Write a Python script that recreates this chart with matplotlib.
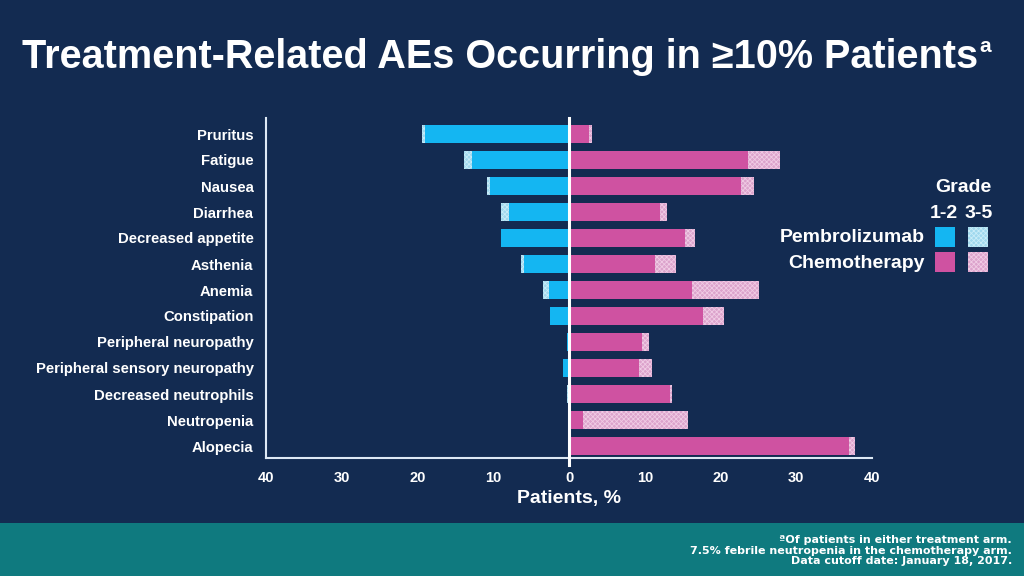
import matplotlib
matplotlib.use("Agg")
import matplotlib.pyplot as plt
import matplotlib.patches as mpatches
import numpy as np

plt.rcParams['font.family'] = ['Liberation Sans', 'DejaVu Sans']
plt.rcParams['hatch.linewidth'] = 0.6

# ---- data (percent of patients) ----
categories = ["Pruritus", "Fatigue", "Nausea", "Diarrhea", "Decreased appetite",
              "Asthenia", "Anemia", "Constipation", "Peripheral neuropathy",
              "Peripheral sensory neuropathy", "Decreased neutrophils",
              "Neutropenia", "Alopecia"]
pembro_g12 = [19.0, 12.8, 10.4, 7.9, 9.0, 5.9, 2.6, 2.5, 0.3, 0.8, 0.0, 0.0, 0.0]
pembro_g35 = [0.4, 1.0, 0.4, 1.1, 0.0, 0.5, 0.8, 0.0, 0.0, 0.0, 0.3, 0.0, 0.0]
chemo_g12 = [2.6, 23.6, 22.7, 12.0, 15.3, 11.4, 16.2, 17.7, 9.7, 9.2, 13.3, 1.9, 37.0]
chemo_g35 = [0.4, 4.3, 1.7, 0.9, 1.3, 2.7, 8.9, 2.8, 0.9, 1.8, 0.3, 13.8, 0.7]
xticks = [-40, -30, -20, -10, 0, 10, 20, 30, 40]
xtick_labels = ["40", "30", "20", "10", "0", "10", "20", "30", "40"]

BG = '#132b51'
TEAL = '#0f7a7f'
BLUE = '#14b6f2'
LBLUE = '#9fd8ee'
LBLUE_H = '#c9ecf8'
PINK = '#cf52a1'
LPINK = '#dca3cc'
LPINK_H = '#f0cbe4'
WHITE = 'white'

W, H = 1024, 576
fig = plt.figure(figsize=(W / 100, H / 100), dpi=100, facecolor=BG)

# teal footer band
fig.patches.append(mpatches.Rectangle((0, 0), 1, (H - 523) / H, transform=fig.transFigure,
                                      facecolor=TEAL, edgecolor='none', zorder=0))

ax = fig.add_axes([266 / W, 1 - 458 / H, (872 - 266) / W, 340 / H])
ax.set_facecolor(BG)

y = np.arange(len(categories))
h = 0.66
neg_g12 = [-v for v in pembro_g12]
neg_g35 = [-v for v in pembro_g35]
ax.barh(y, neg_g12, height=h, color=BLUE, linewidth=0)
ax.barh(y, neg_g35, left=neg_g12, height=h, facecolor=LBLUE, edgecolor=LBLUE_H,
        hatch='xxxxxxx', linewidth=0)
ax.barh(y, chemo_g12, height=h, color=PINK, linewidth=0)
ax.barh(y, chemo_g35, left=chemo_g12, height=h, facecolor=LPINK, edgecolor=LPINK_H,
        hatch='xxxxxxx', linewidth=0)

ax.set_xlim(-40, 40)
ax.set_ylim(12 + 12 / 26, -16 / 26)
ax.axvline(0, ymin=-7 / 340, ymax=1, color=WHITE, linewidth=2.2, clip_on=False, zorder=5)

ax.set_xticks(xticks)
ax.set_xticklabels(xtick_labels)
ax.set_yticks(y)
ax.set_yticklabels(categories)
ax.tick_params(axis='x', length=0, pad=9, labelsize=10.5, labelcolor=WHITE)
ax.tick_params(axis='y', length=0, pad=9, labelsize=10.7, labelcolor=WHITE)
for lab in ax.get_xticklabels() + ax.get_yticklabels():
    lab.set_fontweight('bold')

for s in ['top', 'right']:
    ax.spines[s].set_visible(False)
for s in ['left', 'bottom']:
    ax.spines[s].set_color('#dde8f4')
    ax.spines[s].set_linewidth(1.5)

ax.set_xlabel("Patients, %", color=WHITE, fontsize=14, fontweight='bold', labelpad=4)

# title
title = fig.text(22 / W, 1 - 68 / H, "Treatment-Related AEs Occurring in ≥10% Patients",
                 color=WHITE, fontsize=28.5, fontweight='bold', ha='left', va='baseline')
fig.canvas.draw()
bb = title.get_window_extent()
fig.text(bb.x1 / W + 1 / W, 1 - 52 / H, "a", color=WHITE, fontsize=15, fontweight='bold',
         ha='left', va='baseline')

# legend (manual)
LFS = 14
fig.text(963 / W, 1 - 187 / H, "Grade", color=WHITE, fontsize=LFS, fontweight='bold',
         ha='center', va='center')
fig.text(944 / W, 1 - 213 / H, "1-2", color=WHITE, fontsize=LFS, fontweight='bold',
         ha='center', va='center')
fig.text(979 / W, 1 - 213 / H, "3-5", color=WHITE, fontsize=LFS, fontweight='bold',
         ha='center', va='center')
fig.text(925 / W, 1 - 238 / H, "Pembrolizumab", color=WHITE, fontsize=LFS, fontweight='bold',
         ha='right', va='center')
fig.text(925 / W, 1 - 263 / H, "Chemotherapy", color=WHITE, fontsize=LFS, fontweight='bold',
         ha='right', va='center')
sq = 20
legend_boxes = [(935, 227, BLUE, None, BLUE), (968, 227, LBLUE, 'xxxxxxx', LBLUE_H),
                (935, 252, PINK, None, PINK), (968, 252, LPINK, 'xxxxxxx', LPINK_H)]
for x0, y0, fc, hatch, ec in legend_boxes:
    fig.patches.append(mpatches.Rectangle((x0 / W, 1 - (y0 + sq) / H), sq / W, sq / H,
                                          transform=fig.transFigure, facecolor=fc,
                                          edgecolor=ec, hatch=hatch, linewidth=0, zorder=3))

# footnote
foot = ["ªOf patients in either treatment arm.",
        "7.5% febrile neutropenia in the chemotherapy arm.",
        "Data cutoff date: January 18, 2017."]
for i, line in enumerate(foot):
    fig.text(1012 / W, 1 - (543.3 + 10.3 * i) / H, line, color=WHITE, fontsize=8,
             fontweight='bold', ha='right', va='baseline',
             family=['DejaVu Sans', 'Liberation Sans'])

fig.savefig("out.png", dpi=100, facecolor=BG)
